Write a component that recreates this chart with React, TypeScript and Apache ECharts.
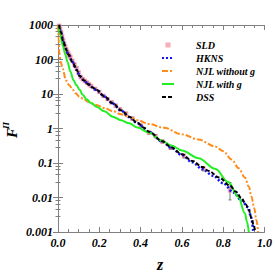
import React, { useEffect, useRef } from "react";
import * as echarts from "echarts";

// ---- data ----
const sldZ = [0.005, 0.01, 0.015, 0.02, 0.025, 0.03, 0.035, 0.04, 0.045, 0.05, 0.055, 0.06, 0.07, 0.08, 0.09, 0.1, 0.11, 0.12, 0.13, 0.14, 0.15, 0.16, 0.18, 0.2, 0.22, 0.24, 0.26, 0.28, 0.3, 0.33, 0.36, 0.4, 0.44, 0.473, 0.505, 0.545, 0.61, 0.705, 0.833];
const sldF = [950, 770, 610, 470, 360, 285, 235, 195, 168, 148, 130, 117, 91, 72, 56, 42, 31, 27, 24, 21.5, 19, 17, 14, 11.5, 8.8, 7.1, 5.7, 4.6, 3.6, 2.7, 1.95, 1.22, 0.76, 0.6, 0.42, 0.28, 0.16, 0.068, 0.016];
const sldLow = [900, 720, 570, 440, 335, 265, 218, 180, 156, 138, 121, 109, 85, 67, 52, 39, 29, 25, 22.3, 20, 17.6, 15.8, 13, 10.6, 8.1, 6.5, 5.2, 4.2, 3.3, 2.45, 1.77, 1.1, 0.69, 0.54, 0.38, 0.25, 0.14, 0.059, 0.0085];
const sldHigh = [1000, 820, 650, 500, 385, 305, 252, 210, 180, 158, 139, 125, 97, 77, 60, 45, 33, 29, 25.7, 23, 20.4, 18.2, 15, 12.4, 9.5, 7.7, 6.2, 5.0, 3.9, 2.95, 2.13, 1.34, 0.83, 0.66, 0.46, 0.31, 0.18, 0.077, 0.027];

const hknsZ = [0.005, 0.014, 0.025, 0.038, 0.05, 0.07, 0.09, 0.105, 0.125, 0.145, 0.165, 0.186, 0.225, 0.265, 0.305, 0.345, 0.385, 0.44, 0.505, 0.55, 0.6, 0.65, 0.7, 0.75, 0.8, 0.85, 0.889, 0.921, 0.935, 0.946];
const hknsF = [1000, 620, 335, 200, 140, 84, 50, 33, 25, 19.5, 15.8, 13.0, 8.4, 5.3, 3.35, 2.15, 1.42, 0.8, 0.42, 0.27, 0.17, 0.105, 0.066, 0.043, 0.026, 0.014, 0.0082, 0.0052, 0.0027, 0.001];

const njlNoGZ = [0.001, 0.003, 0.006, 0.012, 0.023, 0.038, 0.055, 0.07, 0.085, 0.105, 0.125, 0.145, 0.186, 0.225, 0.265, 0.305, 0.345, 0.385, 0.44, 0.513, 0.6, 0.68, 0.761, 0.8, 0.841, 0.875, 0.905, 0.925, 0.937, 0.95, 0.961, 0.969];
const njlNoGF = [1000, 400, 166, 89, 54, 25, 17.8, 13.5, 10.5, 8.3, 7.1, 6.0, 4.8, 3.9, 3.2, 2.6, 2.15, 1.74, 1.35, 1.05, 0.68, 0.48, 0.3, 0.22, 0.126, 0.071, 0.038, 0.02, 0.0105, 0.005, 0.0022, 0.001];

const njlGZ = [0.003, 0.012, 0.023, 0.035, 0.046, 0.06, 0.075, 0.09, 0.105, 0.12, 0.138, 0.16, 0.186, 0.225, 0.265, 0.305, 0.345, 0.385, 0.441, 0.5, 0.55, 0.6, 0.681, 0.761, 0.825, 0.873, 0.905, 0.915, 0.924];
const njlGF = [1000, 500, 257, 141, 85, 45, 25, 17.8, 13.2, 9.5, 7.1, 5.5, 4.3, 3.16, 2.2, 1.74, 1.41, 1.07, 0.76, 0.45, 0.32, 0.23, 0.138, 0.068, 0.028, 0.0105, 0.0035, 0.002, 0.001];

const dssZ = [0.005, 0.014, 0.025, 0.038, 0.05, 0.07, 0.09, 0.105, 0.125, 0.145, 0.165, 0.186, 0.225, 0.265, 0.305, 0.345, 0.385, 0.417, 0.44, 0.505, 0.55, 0.6, 0.65, 0.7, 0.73, 0.78, 0.833, 0.86, 0.889, 0.91, 0.925, 0.937, 0.947, 0.955];
const dssF = [1000, 630, 340, 205, 141, 85, 50, 33, 25, 19.5, 15.8, 13.2, 8.5, 5.4, 3.4, 2.2, 1.45, 1.05, 0.81, 0.43, 0.28, 0.178, 0.115, 0.076, 0.059, 0.038, 0.022, 0.015, 0.0095, 0.0063, 0.0042, 0.0025, 0.0016, 0.001];

const yTickLabels = ["0.001", "0.01", "0.1", "1", "10", "100", "1000"];
const seriesNames = ["SLD", "HKNS", "NJL without g", "NJL with g", "DSS"];

const serif = "Liberation Serif";

export default function App() {
  const ref = useRef<HTMLDivElement>(null);
  useEffect(() => {
    if (!ref.current) return;
    const chart = echarts.init(ref.current, null, { renderer: "svg" });
    const pairs = (zs: number[], fs: number[]) => zs.map((z, i) => [z, fs[i]]);
    const labelFont = { fontFamily: serif, fontWeight: "bold" as const, fontStyle: "italic" as const, fontSize: 12, color: "#000" };
    const axisCol = "#808080";
    const lineOpts = { type: "line" as const, symbol: "none", smooth: 0.35, smoothMonotone: "x" as const, xAxisIndex: 0, yAxisIndex: 0 };
    chart.setOption({
      animation: false,
      backgroundColor: "#fff",
      grid: { left: 58, right: 9, top: 25, bottom: 44 },
      legend: {
        orient: "vertical",
        left: 156,
        top: 35,
        itemGap: 3,
        itemWidth: 12,
        itemHeight: 8,
        data: seriesNames.map((n, i) =>
          i === 0
            ? { name: n, icon: "path://M0,0l0.01,0M12,8l0.01,0M3.5,1.5h5v5h-5z" }
            : { name: n, itemStyle: { opacity: 0 } }
        ),
        textStyle: { fontFamily: serif, fontWeight: "bold", fontStyle: "italic", fontSize: 10, color: "#000", padding: [0, 0, 0, 17] },
      },
      xAxis: [
        {
          type: "value", min: 0, max: 1, interval: 0.2, position: "bottom",
          axisLine: { lineStyle: { color: axisCol } },
          axisTick: { inside: true, length: 5, lineStyle: { color: axisCol } },
          minorTick: { show: true, splitNumber: 4, length: 3, lineStyle: { color: axisCol } },
          axisLabel: { ...labelFont, margin: 5, formatter: (v: number) => v.toFixed(1) },
          splitLine: { show: false },
        },
        {
          type: "value", min: 0, max: 1, interval: 0.2, position: "top",
          axisLine: { lineStyle: { color: axisCol } },
          axisTick: { inside: true, length: 5, lineStyle: { color: axisCol } },
          minorTick: { show: true, splitNumber: 4, length: 3, lineStyle: { color: axisCol } },
          axisLabel: { show: false },
          splitLine: { show: false },
        },
      ],
      yAxis: [
        {
          type: "log", logBase: 10, min: 0.001, max: 1000, position: "left",
          axisLine: { show: true, lineStyle: { color: axisCol } },
          axisTick: { show: true, inside: true, length: 5, lineStyle: { color: axisCol } },
          minorTick: { show: true, splitNumber: 5, length: 2.5, lineStyle: { color: axisCol } },
          axisLabel: { ...labelFont, margin: 5, formatter: (v: number) => yTickLabels[Math.round(Math.log10(v)) + 3] },
          splitLine: { show: false },
        },
        {
          type: "log", logBase: 10, min: 0.001, max: 1000, position: "right",
          axisLine: { show: true, lineStyle: { color: axisCol } },
          axisTick: { show: true, inside: true, length: 5, lineStyle: { color: axisCol } },
          minorTick: { show: true, splitNumber: 5, length: 2.5, lineStyle: { color: axisCol } },
          axisLabel: { show: false },
          splitLine: { show: false },
        },
      ],
      graphic: [
        {
          type: "text", left: 157, top: 256,
          style: { text: "z", fontFamily: serif, fontWeight: "bold", fontStyle: "italic", fontSize: 16, fill: "#000" },
        },
        {
          type: "group", x: 12, y: 138, rotation: Math.PI / 2,
          children: [
            { type: "text", x: 0, y: 0, style: { text: "F", fontFamily: serif, fontWeight: "bold", fontStyle: "italic", fontSize: 15, fill: "#000", textVerticalAlign: "middle" } },
            { type: "text", x: 9, y: -6, style: { text: "Π", fontFamily: serif, fontWeight: "bold", fontStyle: "italic", fontSize: 9, fill: "#000", textVerticalAlign: "middle" } },
          ],
        },
      ],
      series: [
        {
          name: "SLD-err",
          type: "custom",
          z: 1,
          data: sldZ.map((z, i) => [z, sldLow[i], sldHigh[i]]),
          encode: { x: 0, y: [1, 2] },
          renderItem: (params: any, api: any) => {
            const p1 = api.coord([api.value(0), api.value(1)]);
            const p2 = api.coord([api.value(0), api.value(2)]);
            const st = { stroke: "#777", lineWidth: 1 };
            return {
              type: "group",
              children: [
                { type: "line", shape: { x1: p1[0], y1: p1[1], x2: p2[0], y2: p2[1] }, style: st },
                { type: "line", shape: { x1: p1[0] - 1.5, y1: p1[1], x2: p1[0] + 1.5, y2: p1[1] }, style: st },
                { type: "line", shape: { x1: p2[0] - 1.5, y1: p2[1], x2: p2[0] + 1.5, y2: p2[1] }, style: st },
              ],
            };
          },
        },
        {
          name: "SLD", type: "scatter", z: 2, symbol: "rect", symbolSize: 4.5,
          itemStyle: { color: "rgba(240,110,130,0.7)" },
          data: pairs(sldZ, sldF),
        },
        { ...lineOpts, name: "HKNS", z: 3, lineStyle: { color: "#1010ff", width: 2.5, type: [2, 2] }, itemStyle: { color: "#1010ff" }, data: pairs(hknsZ, hknsF) },
        { ...lineOpts, name: "NJL without g", z: 3, lineStyle: { color: "#ff8c1a", width: 2, type: [6, 2, 2, 2] }, itemStyle: { color: "#ff8c1a" }, data: pairs(njlNoGZ, njlNoGF) },
        { ...lineOpts, name: "NJL with g", z: 3, lineStyle: { color: "#22ee22", width: 2, type: "solid" }, itemStyle: { color: "#22ee22" }, data: pairs(njlGZ, njlGF) },
        { ...lineOpts, name: "DSS", z: 4, lineStyle: { color: "#000", width: 2, type: [4, 2] }, itemStyle: { color: "#000" }, data: pairs(dssZ, dssF) },
      ],
    });
    return () => chart.dispose();
  }, []);
  return <div ref={ref} style={{ position: "fixed", left: 0, top: 0, width: 275, height: 276 }} />;
}
